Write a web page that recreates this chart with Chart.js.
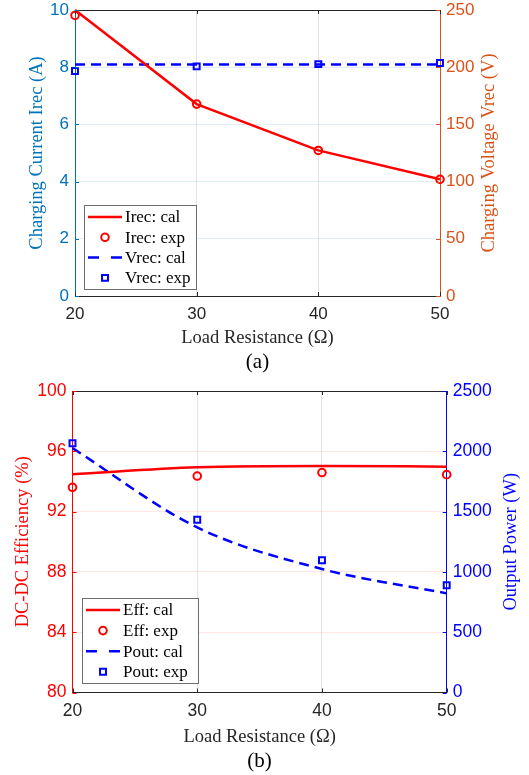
<!DOCTYPE html>
<html>
<head>
<meta charset="utf-8">
<script src="https://cdn.jsdelivr.net/npm/chart.js@4.4.1/dist/chart.umd.min.js"></script>
<style>
  html, body { margin: 0; padding: 0; background: #fff; }
  canvas { position: absolute; left: 0; display: block; }
  #chartA { top: 0; }
  #chartB { top: 380px; }
</style>
</head>
<body>
<canvas id="chartA" width="529" height="380"></canvas>
<canvas id="chartB" width="529" height="395"></canvas>
<script>
// data
const resistance = [20, 30, 40, 50];
const xTicks = [20, 30, 40, 50];

const irecCal = [10.0, 6.71, 5.09, 4.08];
const irecExp = [9.81, 6.71, 5.09, 4.08];
const vrecCal = [202.4, 202.4, 202.4, 202.4];
const vrecExp = [196.6, 200.7, 202.7, 203.6];

const effCal = [94.48, 94.94, 95.03, 94.98];
const effExp = [93.61, 94.36, 94.59, 94.45];
const poutCal = [2026, 1369, 1024, 822];
const poutExp = [2067, 1433, 1096, 890];

const SANS = "'Liberation Sans', Arial, sans-serif";
const SERIF = "'Liberation Serif', 'Times New Roman', serif";
const RED = '#ff0000', BLUE = '#0000ff';

const pts = ys => resistance.map((x, i) => ({ x, y: ys[i] }));

// frame, inner ticks, rotated titles and in-plot legend (MATLAB look)
const framePlugin = {
  id: 'frame',
  afterDraw(chart, args, o) {
    const { ctx, chartArea: a, scales } = chart;
    ctx.save();
    ctx.lineWidth = 1;
    ctx.strokeStyle = '#262626';
    ctx.beginPath(); ctx.moveTo(a.left, a.top + 0.5); ctx.lineTo(a.right, a.top + 0.5); ctx.stroke();

    const tl = 4;
    scales.x.ticks.forEach(t => {
      const px = Math.round(scales.x.getPixelForValue(t.value)) + 0.5;
      ctx.beginPath();
      ctx.moveTo(px, a.bottom); ctx.lineTo(px, a.bottom - tl);
      ctx.moveTo(px, a.top); ctx.lineTo(px, a.top + tl);
      ctx.stroke();
    });
    ctx.strokeStyle = o.leftColor;
    scales.y.ticks.forEach(t => {
      const py = Math.round(scales.y.getPixelForValue(t.value)) + 0.5;
      ctx.beginPath(); ctx.moveTo(a.left, py); ctx.lineTo(a.left + tl, py); ctx.stroke();
    });
    ctx.strokeStyle = o.rightColor;
    scales.y1.ticks.forEach(t => {
      const py = Math.round(scales.y1.getPixelForValue(t.value)) + 0.5;
      ctx.beginPath(); ctx.moveTo(a.right, py); ctx.lineTo(a.right - tl, py); ctx.stroke();
    });

    // titles
    const cy = (a.top + a.bottom) / 2, cx = (a.left + a.right) / 2;
    ctx.textAlign = 'center'; ctx.textBaseline = 'middle';
    ctx.font = '18.5px ' + SERIF;
    ctx.fillStyle = '#262626';
    ctx.fillText('Load Resistance (\u03A9)', cx, a.bottom + o.xTitleDy);
    ctx.font = '21px ' + SERIF;
    ctx.fillStyle = '#000';
    ctx.fillText(o.tag, cx, a.bottom + o.tagDy);
    ctx.font = '18.5px ' + SERIF;
    [[o.leftTitle, o.leftTitleX, o.leftColor], [o.rightTitle, o.rightTitleX, o.rightColor]].forEach(([txt, x, col]) => {
      ctx.save();
      ctx.translate(x, cy); ctx.rotate(-Math.PI / 2);
      ctx.fillStyle = col; ctx.fillText(txt, 0, 0);
      ctx.restore();
    });

    // legend
    const L = o.legend;
    ctx.fillStyle = '#fff';
    ctx.fillRect(L.x, L.y, L.w, L.h);
    ctx.strokeStyle = '#6e6e6e'; ctx.lineWidth = 1;
    ctx.strokeRect(L.x + 0.5, L.y + 0.5, L.w, L.h);
    chart.data.datasets.forEach((ds, i) => {
      const y = L.y + L.first + i * L.step;
      const x0 = L.x + 4, x1 = L.x + 38, xm = (x0 + x1) / 2;
      ctx.strokeStyle = ds.borderColor;
      if (ds.showLine !== false) {
        ctx.lineWidth = ds.borderWidth;
        ctx.beginPath();
        if (ds.borderDash) {
          ctx.moveTo(x0, y); ctx.lineTo(x0 + 11, y);
          ctx.moveTo(x1 - 11, y); ctx.lineTo(x1, y);
        } else {
          ctx.moveTo(x0, y); ctx.lineTo(x1, y);
        }
        ctx.stroke();
      } else {
        ctx.lineWidth = ds.pointBorderWidth;
        ctx.beginPath();
        if (ds.pointStyle === 'rect') {
          const s = ds.pointRadius * Math.SQRT1_2;
          ctx.rect(xm - s, y - s, 2 * s, 2 * s);
        } else {
          ctx.arc(xm, y, ds.pointRadius, 0, Math.PI * 2);
        }
        ctx.stroke();
      }
      ctx.fillStyle = '#000';
      ctx.textAlign = 'left';
      ctx.font = '17px ' + SERIF;
      ctx.fillText(ds.label, L.x + 41, y + 1);
    });
    ctx.restore();
  }
};

function lineSet(label, data, color, axis, dashed, tension) {
  return { label, data, yAxisID: axis, borderColor: color, borderWidth: 2.5, borderDash: dashed ? [10, 6] : undefined,
    pointRadius: 0, tension: tension, cubicInterpolationMode: tension ? 'monotone' : 'default', clip: false };
}
function pointSet(label, data, color, axis, style) {
  return { label, data, yAxisID: axis, showLine: false, borderColor: color, pointBorderColor: color,
    pointBackgroundColor: 'rgba(0,0,0,0)', pointStyle: style, pointRadius: style === 'rect' ? 4.2 : 3.8,
    pointBorderWidth: 2, clip: false };
}

function makeScales(cfg) {
  const edge = (c, lo, hi, col) => (c.tick && (c.tick.value === lo || c.tick.value === hi)) ? 'rgba(0,0,0,0)' : col;
  const plain = v => String(v);
  // fixed axis sizes, no extra room for overhanging end labels
  const fixW = w => s => { s.width = w; s.paddingTop = 0; s.paddingBottom = 0; };
  return {
    x: {
      type: 'linear', min: 20, max: 50,
      afterBuildTicks: s => { s.ticks = xTicks.map(v => ({ value: v })); },
      ticks: { color: '#262626', font: { family: SANS, size: cfg.tickSize }, padding: 8, maxRotation: 0, callback: plain },
      grid: { color: c => edge(c, 20, 50, '#e4e4e4'), drawTicks: false },
      border: { color: '#262626', width: 1 },
      afterFit: s => { s.height = cfg.xHeight; s.paddingLeft = 0; s.paddingRight = 0; }
    },
    y: {
      position: 'left', min: cfg.yMin, max: cfg.yMax,
      ticks: { stepSize: cfg.yStep, color: cfg.leftColor, font: { family: SANS, size: cfg.tickSize }, padding: 6, callback: plain },
      grid: { color: c => edge(c, cfg.yMin, cfg.yMax, cfg.hGrid), drawTicks: false },
      border: { color: cfg.leftColor, width: 1 },
      afterFit: fixW(cfg.leftWidth)
    },
    y1: {
      position: 'right', min: cfg.y1Min, max: cfg.y1Max,
      ticks: { stepSize: cfg.y1Step, color: cfg.rightColor, font: { family: SANS, size: cfg.tickSize }, padding: 6, callback: plain },
      grid: { drawOnChartArea: false, drawTicks: false },
      border: { color: cfg.rightColor, width: 1 },
      afterFit: fixW(cfg.rightWidth)
    }
  };
}

Chart.defaults.animation = false;

new Chart(document.getElementById('chartA'), {
  type: 'line',
  data: {
    datasets: [
      lineSet('Irec: cal', pts(irecCal), RED, 'y', false, 0),
      pointSet('Irec: exp', pts(irecExp), RED, 'y', 'circle'),
      lineSet('Vrec: cal', pts(vrecCal), BLUE, 'y1', true, 0),
      pointSet('Vrec: exp', pts(vrecExp), BLUE, 'y1', 'rect')
    ]
  },
  options: {
    responsive: false, devicePixelRatio: 1,
    layout: { padding: { top: 10, left: 0, right: 0, bottom: 0 } },
    scales: makeScales({ tickSize: 17, xHeight: 84, leftWidth: 75, rightWidth: 89,
      yMin: 0, yMax: 10, yStep: 2, y1Min: 0, y1Max: 250, y1Step: 50,
      leftColor: '#0072BD', rightColor: '#D95319', hGrid: 'rgba(0,114,189,0.12)' }),
    plugins: {
      legend: { display: false }, tooltip: { enabled: false },
      frame: { leftColor: '#0072BD', rightColor: '#D95319',
        leftTitle: 'Charging Current Irec (A)', rightTitle: 'Charging Voltage Vrec (V)',
        leftTitleX: 37, rightTitleX: 489, xTitleDy: 42.5, tag: '(a)', tagDy: 66,
        legend: { x: 84, y: 205, w: 112, h: 84, first: 12, step: 20.3 } }
    }
  },
  plugins: [framePlugin]
});

new Chart(document.getElementById('chartB'), {
  type: 'line',
  data: {
    datasets: [
      lineSet('Eff: cal', pts(effCal), RED, 'y', false, 0.4),
      pointSet('Eff: exp', pts(effExp), RED, 'y', 'circle'),
      lineSet('Pout: cal', pts(poutCal), BLUE, 'y1', true, 0.4),
      pointSet('Pout: exp', pts(poutExp), BLUE, 'y1', 'rect')
    ]
  },
  options: {
    responsive: false, devicePixelRatio: 1,
    layout: { padding: { top: 11, left: 0, right: 0, bottom: 0 } },
    scales: makeScales({ tickSize: 17.5, xHeight: 82.5, leftWidth: 72.5, rightWidth: 82.3,
      yMin: 80, yMax: 100, yStep: 4, y1Min: 0, y1Max: 2500, y1Step: 500,
      leftColor: RED, rightColor: BLUE, hGrid: 'rgba(255,0,0,0.1)' }),
    plugins: {
      legend: { display: false }, tooltip: { enabled: false },
      frame: { leftColor: RED, rightColor: BLUE,
        leftTitle: 'DC-DC Efficiency (%)', rightTitle: 'Output Power (W)',
        leftTitleX: 23, rightTitleX: 511, xTitleDy: 45, tag: '(b)', tagDy: 69,
        legend: { x: 82, y: 218, w: 116, h: 85, first: 12, step: 20.6 } }
    }
  },
  plugins: [framePlugin]
});
</script>
</body>
</html>
